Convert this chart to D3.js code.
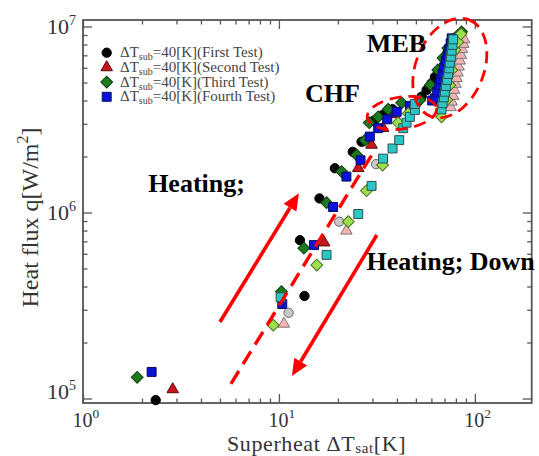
<!DOCTYPE html>
<html><head><meta charset="utf-8">
<script src="https://cdn.jsdelivr.net/npm/d3@7"></script>
<style>
body{margin:0;background:#fff;}
svg{display:block;font-family:'Liberation Serif','Times New Roman',serif;}
</style>
</head><body>
<svg id="c" width="539" height="456"></svg>
<script>
// ---------- data ----------
const xTickValues = [1, 10, 100];
const xTickExp = ['0', '1', '2'];
const yTickValues = [1e5, 1e6, 1e7];
const yTickExp = ['5', '6', '7'];
const legendLabels = ['First Test', 'Second Test', 'Third Test', 'Fourth Test'];

// heating runs  [superheat K, heat flux W/m2]
const firstTest = [[2.35,9.8e4],[13.5,3.56e5],[12.8,7.1e5],[16.1,1.19e6],[19.3,1.73e6],[23.8,2.12e6],[26.4,2.40e6],[30.5,3.12e6],[33.8,3.34e6],[38.0,3.59e6],[50.4,3.86e6],[53.5,4.20e6],[56.7,4.56e6],[60.1,4.95e6],[62.5,5.35e6]];
const secondTest = [[2.87,1.12e5],[17.0,6.89e5],[25.4,1.73e6],[29.7,2.31e6],[34.0,2.84e6],[38.7,3.37e6]];
const thirdTest = [[1.89,1.30e5],[10.3,3.75e5],[13.4,6.43e5],[17.5,1.13e6],[20.9,1.66e6],[24.9,2.04e6],[27.5,2.45e6],[28.9,3.04e6],[32.1,3.27e6],[36.1,3.59e6],[42.3,3.89e6],[52.4,4.03e6],[59.3,4.85e6],[64.7,5.84e6],[68.7,6.77e6],[72.8,7.66e6],[79.1,8.67e6],[85.5,9.37e6]];
const fourthTest = [[2.24,1.39e5],[10.4,3.22e5],[15.1,6.68e5],[18.9,1.07e6],[22.1,1.56e6],[26.1,1.91e6],[29.1,2.56e6],[32.1,2.84e6],[35.7,3.17e6],[39.9,3.48e6],[46.6,3.74e6],[60.5,4.0e6],[62.5,4.11e6],[64.2,4.46e6],[65.8,4.85e6],[66.8,5.20e6],[68.4,5.60e6],[69.7,6.04e6],[71.1,6.55e6],[72.5,7.03e6],[73.9,7.54e6],[75.2,8.12e6],[76.1,8.64e6]];
// decreasing (down) runs
const firstTestDown = [[11.2,2.89e5],[20.3,8.93e5],[31.3,1.82e6]];
const secondTestDown = [[10.6,2.52e5],[22.1,7.98e5],[75.2,3.68e6],[76.1,3.94e6],[77.5,4.23e6],[78.4,4.56e6],[79.7,4.91e6],[80.7,5.27e6],[81.6,5.65e6],[82.6,6.08e6],[83.8,6.55e6],[84.9,7.03e6],[85.9,7.54e6],[87.2,8.05e6],[88.2,8.53e6]];
const thirdTestDown = [[9.35,2.48e5],[15.6,5.22e5],[22.6,8.93e5],[28.0,1.31e6],[33.8,1.80e6],[40.6,3.04e6],[45.7,3.41e6],[67.6,3.27e6],[71.9,4.03e6],[74.5,4.84e6],[76.3,5.84e6],[79.1,7.48e6],[81.9,8.26e6],[84.9,9.12e6]];
const fourthTestDown = [[10.2,3.50e5],[17.5,5.92e5],[25.4,9.82e5],[29.7,1.39e6],[34.0,1.95e6],[38.0,2.21e6],[41.1,2.45e6],[43.1,2.84e6],[44.8,3.04e6],[46.6,3.27e6],[49.4,3.56e6],[49.4,3.83e6],[67.6,3.59e6],[68.4,3.87e6],[69.5,4.16e6],[70.3,4.46e6],[71.1,4.79e6],[72.2,5.16e6],[73.1,5.56e6],[73.9,5.96e6],[74.5,6.39e6],[75.4,6.88e6],[76.1,7.41e6],[76.9,7.96e6],[77.5,8.53e6]];

// annotation anchors in data units
const arrowUp = [[5.0,2.58e5],[12.65,1.27e6]];
const arrowDown = [[31.6,7.57e5],[11.65,1.32e5]];
const dashedLine = [[5.69,1.20e5],[30.2,2.09e6]];
const chfCenter = [42.4,3.43e6];
const mebCenter = [74.5,5.98e6];
const textNotes = [
  {t:'MEB', at:[28.1,7.33e6]},
  {t:'CHF', at:[13.6,3.94e6]},
  {t:'Heating;', at:[2.15,1.29e6]},
  {t:'Heating; Down', at:[28.0,4.91e5]}
];

// ---------- drawing ----------
const svg = d3.select('#c');
const L = 83, R = 531.7, T = 20, B = 403;
const x = d3.scaleLog().domain([1, 195]).range([L, R]);
const y = d3.scaleLog().domain([9.46e4, 1.084e7]).range([B, T]);

const xMinor = [], yMinor = [];
[1,10,100].forEach(d => { for (let m = 2; m <= 9; m++) { const v = m*d; if (v <= 195) xMinor.push(v); } });
[1e4,1e5,1e6].forEach(d => { for (let m = 2; m <= 9; m++) { const v = m*d; if (v >= 9.46e4 && v <= 1.084e7) yMinor.push(v); } });

function axisG(gen, tr, vals, size) {
  const g = svg.append('g').attr('transform', tr)
    .call(gen.tickValues(vals).tickSize(size).tickSizeOuter(0).tickFormat(''));
  g.select('.domain').remove();
  g.selectAll('line').attr('stroke', '#555').attr('stroke-width', 1.3);
}
axisG(d3.axisBottom(x), `translate(0,${B})`, xTickValues, -9);
axisG(d3.axisBottom(x), `translate(0,${B})`, xMinor, -4.5);
axisG(d3.axisTop(x), `translate(0,${T})`, xTickValues, -9);
axisG(d3.axisTop(x), `translate(0,${T})`, xMinor, -4.5);
axisG(d3.axisLeft(y), `translate(${L},0)`, yTickValues, -9);
axisG(d3.axisLeft(y), `translate(${L},0)`, yMinor, -4.5);
axisG(d3.axisRight(y), `translate(${R},0)`, yTickValues, -9);
axisG(d3.axisRight(y), `translate(${R},0)`, yMinor, -4.5);

svg.append('rect').attr('x', L).attr('y', T).attr('width', R-L).attr('height', B-T)
  .attr('fill', 'none').attr('stroke', '#555').attr('stroke-width', 1.8);

// tick labels
xTickValues.forEach((v, i) => {
  const t = svg.append('text').attr('x', x(v) - 10.5).attr('y', 426.5)
    .attr('font-size', 20).attr('fill', '#333');
  t.append('tspan').text('10');
  t.append('tspan').attr('dy', -9).attr('font-size', 13.5).text(xTickExp[i]);
});
yTickValues.forEach((v, i) => {
  const t = svg.append('text').attr('x', 76).attr('y', y(v) + (i === 0 ? 0.5 : 7))
    .attr('text-anchor', 'end').attr('font-size', 22).attr('fill', '#333');
  t.append('tspan').text('10');
  t.append('tspan').attr('dy', -9).attr('font-size', 14).text(yTickExp[i]);
});

// axis titles
const xt = svg.append('text').attr('x', 227).attr('y', 450.5).attr('font-size', 22)
  .attr('letter-spacing', 0.6).attr('fill', '#333');
xt.append('tspan').text('Superheat ΔT');
xt.append('tspan').attr('dy', 2).attr('font-size', 15).text('sat');
xt.append('tspan').attr('dy', -2).text('[K]');

const yt = svg.append('text').attr('transform', 'translate(38,217.5) rotate(-90)')
  .attr('text-anchor', 'middle').attr('font-size', 24).attr('fill', '#333');
yt.append('tspan').text('Heat flux q[W/m');
yt.append('tspan').attr('dy', -10).attr('font-size', 16).text('2');
yt.append('tspan').attr('dy', 10).text(']');

// series
const styles = [
  {data: firstTest, shape: 'circle', fill: '#000000', stroke: '#000000'},
  {data: secondTest, shape: 'triangle', fill: '#c8161d', stroke: '#5a0a0a'},
  {data: thirdTest, shape: 'diamond', fill: '#1f7a1f', stroke: '#0b3d0b'},
  {data: fourthTest, shape: 'square', fill: '#0a14d8', stroke: '#050a60'},
  {data: firstTestDown, shape: 'circle', fill: '#c8c8c8', stroke: '#666666'},
  {data: secondTestDown, shape: 'triangle', fill: '#f4b4b4', stroke: '#777777'},
  {data: thirdTestDown, shape: 'diamond', fill: '#9be24a', stroke: '#4f6a2a'},
  {data: fourthTestDown, shape: 'square', fill: '#2cc6c6', stroke: '#2f4f4f'}
];
function symPath(shape) {
  if (shape === 'circle') return d3.symbol().type(d3.symbolCircle).size(68)();
  if (shape === 'triangle') return d3.symbol().type(d3.symbolTriangle).size(58)();
  return d3.symbol().type(d3.symbolSquare).size(shape === 'diamond' ? 70 : 80)();
}
function symTransform(shape, px, py) {
  return `translate(${px},${py})` + (shape === 'diamond' ? ' rotate(45)' : '');
}
styles.forEach(s => {
  svg.append('g').selectAll('path').data(s.data).join('path')
    .attr('d', symPath(s.shape))
    .attr('transform', d => symTransform(s.shape, x(d[0]), y(d[1])))
    .attr('fill', s.fill).attr('stroke', s.stroke).attr('stroke-width', 1);
});

// annotations
const red = '#ff0000';
svg.append('line')
  .attr('x1', x(dashedLine[0][0])).attr('y1', y(dashedLine[0][1]))
  .attr('x2', x(dashedLine[1][0])).attr('y2', y(dashedLine[1][1]))
  .attr('stroke', red).attr('stroke-width', 3.4).attr('stroke-dasharray', '15,8');

function arrow(pts) {
  const x1 = x(pts[0][0]), y1 = y(pts[0][1]), x2 = x(pts[1][0]), y2 = y(pts[1][1]);
  const ang = Math.atan2(y2 - y1, x2 - x1);
  const hl = 17, hw = 7.5;
  const bx = x2 - hl * Math.cos(ang), by = y2 - hl * Math.sin(ang);
  svg.append('line').attr('x1', x1).attr('y1', y1).attr('x2', bx).attr('y2', by)
    .attr('stroke', red).attr('stroke-width', 3.6);
  const px = -Math.sin(ang), py = Math.cos(ang);
  svg.append('path')
    .attr('d', `M${x2},${y2}L${bx + hw*px},${by + hw*py}L${bx - hw*px},${by - hw*py}Z`)
    .attr('fill', red);
}
arrow(arrowUp);
arrow(arrowDown);

function ellipse(c, rx, ry, rot) {
  svg.append('ellipse').attr('cx', 0).attr('cy', 0).attr('rx', rx).attr('ry', ry)
    .attr('transform', `translate(${x(c[0])},${y(c[1])}) rotate(${rot})`)
    .attr('fill', 'none').attr('stroke', red).attr('stroke-width', 2.8)
    .attr('stroke-dasharray', '12,7');
}
ellipse(chfCenter, 35, 16, -8);
ellipse(mebCenter, 52, 34, -68);

textNotes.forEach(n => {
  svg.append('text').attr('x', x(n.at[0])).attr('y', y(n.at[1]))
    .attr('font-size', 26).attr('font-weight', 'bold').attr('fill', '#000').text(n.t);
});

// legend
const legShapes = ['circle', 'triangle', 'diamond', 'square'];
legendLabels.forEach((lab, i) => {
  const cy = 52.7 + i * 14.7;
  const s = styles[i];
  svg.append('path').attr('d', symPath(legShapes[i]))
    .attr('transform', symTransform(legShapes[i], 106.7, cy))
    .attr('fill', s.fill).attr('stroke', s.stroke).attr('stroke-width', 1);
  const t = svg.append('text').attr('x', 120).attr('y', cy + 4.5)
    .attr('font-size', 15).attr('fill', '#444');
  t.append('tspan').text('ΔT');
  t.append('tspan').attr('dy', 3).attr('font-size', 10).text('sub');
  t.append('tspan').attr('dy', -3).text('=40[K](' + lab + ')');
});
</script>
</body></html>
